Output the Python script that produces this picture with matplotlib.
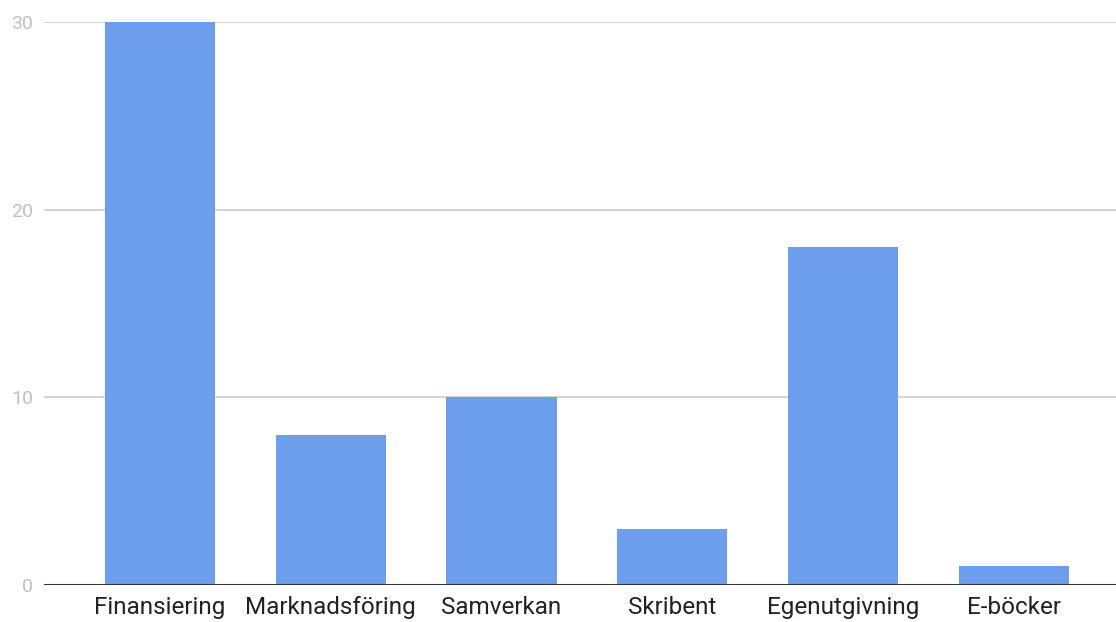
import matplotlib.pyplot as plt

categories = ["Finansiering", "Marknadsföring", "Samverkan", "Skribent", "Egenutgivning", "E-böcker"]
values = [30, 8, 10, 3, 18, 1]
y_ticks = [0, 10, 20, 30]

BAR = "#6d9eeb"
GRID = "#cccccc"

plt.rcParams['font.family'] = ['Roboto', 'DejaVu Sans']

fig = plt.figure(figsize=(11.16, 6.22), dpi=100)
ax = fig.add_axes([44 / 1116, 37 / 622, 1072 / 1116, 563 / 622])

x = list(range(len(categories)))
ax.bar(x, values, width=0.645, color=BAR, zorder=3)

ax.set_ylim(0, 30)
ax.set_xlim(-0.68, 5.6)
ax.set_yticks(y_ticks)
ax.set_yticklabels([str(t) for t in y_ticks])
ax.set_xticks(x)
ax.set_xticklabels(categories)

ax.grid(axis='y', color=GRID, linewidth=1.2, zorder=0)
ax.axhline(0, color="#333333", linewidth=1.5, zorder=4)
for s in ax.spines.values():
    s.set_visible(False)

ax.tick_params(axis='y', length=0, pad=8, labelsize=14, labelcolor="#c0c0c0")
ax.tick_params(axis='x', length=0, pad=8, labelsize=17.5, labelcolor="#222222")

fig.savefig("out.png", dpi=100)
